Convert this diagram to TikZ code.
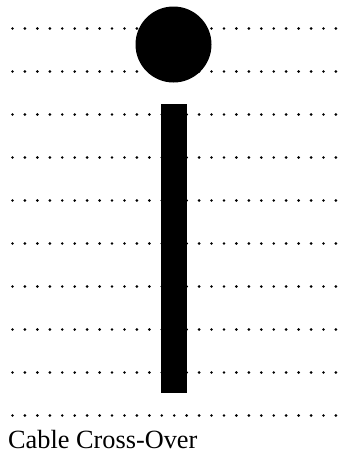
\documentclass[tikz,border=0pt]{standalone}
\usepackage{fontspec}
\setmainfont{Liberation Serif}
\tikzset{
  dotmark/.style={fill=black},
  blob/.style={circle,fill=black,inner sep=0pt,minimum size=76pt},
  bar/.style={fill=black},
  caption/.style={anchor=base west,inner sep=0pt,font=\fontsize{26.3}{30}\selectfont}
}
\begin{document}
\begin{tikzpicture}[x=1pt,y=-1pt]
\useasboundingbox (0,0) rectangle (339,456);
\foreach \r in {0,...,9}{
  \foreach \c in {0,...,26}{
    \fill[dotmark] (12.5+\c*12.44,28.5+\r*43) circle (1.45);
  }
}
\node[blob] (head) at (173.5,44.5) {};
\fill[bar] (160.5,104) rectangle (186.7,393.3);
\node[caption] (label) at (8,448) {Cable Cross-Over};
\end{tikzpicture}
\end{document}
